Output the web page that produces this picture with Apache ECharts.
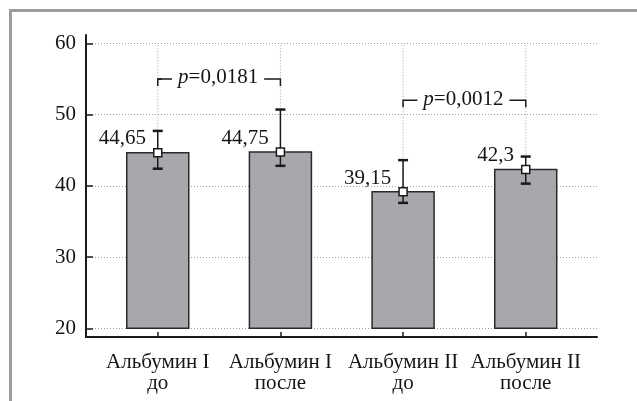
<!DOCTYPE html>
<html><head><meta charset="utf-8">
<script src="https://cdn.jsdelivr.net/npm/echarts@6/dist/echarts.min.js"></script>
<style>
html,body{margin:0;padding:0;background:#fff;overflow:hidden;}
#frame{position:absolute;left:9px;top:9px;width:700px;height:500px;border-top:3px solid #9c9c9c;border-left:3px solid #9c9c9c;}
#chart{position:absolute;left:0;top:0;width:637px;height:401px;}
</style></head><body>
<div id="frame"></div><div id="chart"></div>
<script>
const categories = ['Альбумин I\nдо', 'Альбумин I\nпосле', 'Альбумин II\nдо', 'Альбумин II\nпосле'];
const categoryPos = [0, 1, 2, 3];
const means = [44.65, 44.75, 39.15, 42.3];
const meanLabels = ['44,65', '44,75', '39,15', '42,3'];
const errLow = [42.4, 42.8, 37.6, 40.3];
const errHigh = [47.7, 50.7, 43.6, 44.1];
const yTicks = [20, 30, 40, 50, 60];
const yMinorTicks = [25, 35, 45, 55];
const barBase = 20;
const pPairs = [[0, 1], [2, 3]];
const pLevels = [55, 52];
const pTexts = ['0,0181', '0,0012'];

const FONT = 'Liberation Serif';
const INK = '#1a1a1a';
const TXT = '#151515';

const chart = echarts.init(document.getElementById('chart'), null, {renderer: 'canvas'});

const option = {
  animation: false,
  grid: {left: 86, right: 40, top: 35, bottom: 64},
  xAxis: {
    type: 'value', min: -0.585, max: 3.581,
    axisLine: {show: true, onZero: false, lineStyle: {color: INK, width: 2}},
    axisTick: {show: true, inside: true, length: 5, customValues: categoryPos, lineStyle: {color: INK, width: 1.5}},
    axisLabel: {customValues: categoryPos, formatter: v => categories[Math.round(v)], margin: 15,
      fontFamily: FONT, fontSize: 21, lineHeight: 21, color: TXT},
    splitLine: {show: false}
  },
  yAxis: [{
    type: 'value', min: 18.78, max: 61.16,
    axisLine: {show: true, onZero: false, lineStyle: {color: INK, width: 2}},
    axisTick: {show: true, inside: true, length: 7, customValues: yTicks, lineStyle: {color: INK, width: 1.5}},
    axisLabel: {customValues: yTicks, margin: 10, fontFamily: FONT, fontSize: 21, color: TXT},
    splitLine: {show: true, lineStyle: {type: [1, 2], color: '#a0a0a0', width: 1}}
  }, {
    type: 'value', min: 18.78, max: 61.16, position: 'left',
    axisLine: {show: false},
    axisTick: {show: true, inside: true, length: 4, customValues: yMinorTicks, lineStyle: {color: INK, width: 1.5}},
    axisLabel: {show: false},
    splitLine: {show: false}
  }],
  series: [
    {
      type: 'custom', name: 'vgrid', z: 1,
      data: categoryPos.map(x => [x]),
      encode: {x: 0},
      renderItem: (params, api) => {
        const x = api.value(0);
        const a = api.coord([x, yTicks[0]]);
        const b = api.coord([x, yTicks[yTicks.length - 1]]);
        return {type: 'line', shape: {x1: a[0], y1: a[1], x2: b[0], y2: b[1]},
          style: {stroke: '#a0a0a0', lineWidth: 1, lineDash: [1, 2]}};
      }
    },
    {
      type: 'custom', name: 'bars', z: 2,
      data: categoryPos.map((x, i) => [x, means[i]]),
      encode: {x: 0, y: 1},
      renderItem: (params, api) => {
        const x = api.value(0);
        const top = api.coord([x, api.value(1)]);
        const bot = api.coord([x, barBase]);
        const w = 62;
        return {type: 'rect', shape: {x: top[0] - w / 2, y: top[1], width: w, height: bot[1] - top[1]},
          style: {fill: '#a7a8ab', stroke: '#2a2a2a', lineWidth: 1.5}};
      }
    },
    {
      type: 'custom', name: 'err', z: 3,
      data: categoryPos.map((x, i) => [x, errLow[i], errHigh[i]]),
      encode: {x: 0, y: [1, 2]},
      renderItem: (params, api) => {
        const x = api.value(0);
        const lo = api.coord([x, api.value(1)]);
        const hi = api.coord([x, api.value(2)]);
        const cw = 5;
        const st = {stroke: INK, lineWidth: 1.5};
        const cs = {stroke: INK, lineWidth: 2.5};
        return {type: 'group', children: [
          {type: 'line', shape: {x1: lo[0], y1: lo[1], x2: hi[0], y2: hi[1]}, style: st},
          {type: 'line', shape: {x1: hi[0] - cw, y1: hi[1], x2: hi[0] + cw, y2: hi[1]}, style: cs},
          {type: 'line', shape: {x1: lo[0] - cw, y1: lo[1], x2: lo[0] + cw, y2: lo[1]}, style: cs}
        ]};
      }
    },
    {
      type: 'scatter', name: 'mean', z: 4,
      data: categoryPos.map((x, i) => [x, means[i]]),
      symbol: 'rect', symbolSize: 8,
      itemStyle: {color: '#fff', borderColor: INK, borderWidth: 1.5, opacity: 1},
      label: {show: true, position: [-7, 1.5], align: 'right', verticalAlign: 'bottom',
        formatter: p => meanLabels[p.dataIndex], fontFamily: FONT, fontSize: 21, color: TXT}
    },
    {
      type: 'custom', name: 'brackets', z: 5,
      data: pPairs.map((pr, i) => [pr[0], pr[1], pLevels[i]]),
      encode: {x: [0, 1], y: 2},
      renderItem: (params, api) => {
        const a = api.coord([api.value(0), api.value(2)]);
        const b = api.coord([api.value(1), api.value(2)]);
        const t = 7;
        return {type: 'group', children: [
          {type: 'polyline', shape: {points: [[a[0], a[1] + t], [a[0], a[1]], [b[0], b[1]], [b[0], b[1] + t]]},
            style: {stroke: INK, lineWidth: 1.5, fill: null}},
          {type: 'text', x: (a[0] + b[0]) / 2 - 1, y: a[1] - 1, z2: 10,
            style: {text: '{i|p}=' + pTexts[params.dataIndex], align: 'center', verticalAlign: 'middle',
              fontFamily: FONT, fontSize: 21, fill: TXT, backgroundColor: '#fff', padding: [0, 6],
              rich: {i: {fontStyle: 'italic', fontFamily: FONT, fontSize: 21, fill: TXT}}}}
        ]};
      }
    }
  ]
};
chart.setOption(option);
</script>
</body></html>
